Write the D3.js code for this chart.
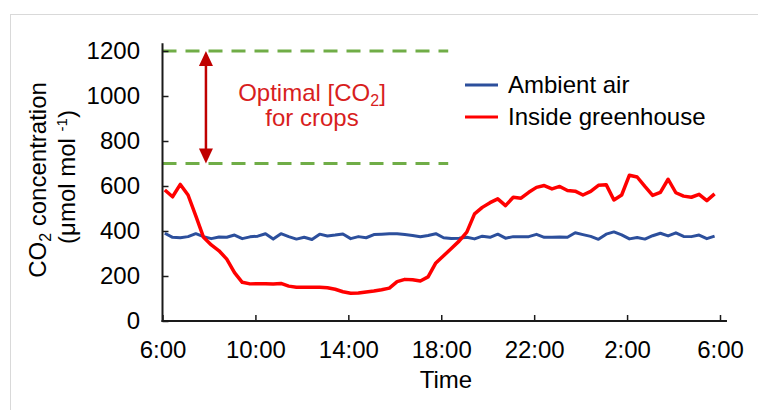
<!DOCTYPE html>
<html><head><meta charset="utf-8">
<script src="https://cdn.jsdelivr.net/npm/d3@7"></script>
<style>
body{margin:0;background:#fff}
svg{display:block}
text{font-family:"Liberation Sans",Arial,Helvetica,sans-serif}
</style>
</head><body>
<svg id="chart" width="758" height="410"></svg>
<script>
// ---- data ----
const tickHours = [0, 4, 8, 12, 16, 20, 24];
const tickLabels = ["6:00", "10:00", "14:00", "18:00", "22:00", "2:00", "6:00"];
const yTicks = [0, 200, 400, 600, 800, 1000, 1200];
const optimalRange = [700, 1200];
const seriesNames = ["Ambient air", "Inside greenhouse"];
const sampleStart = 0.1;      // hours after 6:00 of first reading
const sampleStep = 1 / 3;     // readings every 20 minutes
const ambient = [390,372,370,375,388,375,366,373,372,382,366,374,377,388,364,388,375,364,
  372,362,386,378,382,387,366,375,370,384,386,388,388,384,380,374,380,388,
  370,367,368,372,365,377,372,386,368,375,375,375,385,372,372,373,372,392,
  384,376,363,386,396,383,365,371,364,379,390,378,392,376,375,382,366,377];
const greenhouse = [582,552,607,560,467,372,338,312,275,215,172,165,166,166,164,167,155,150,
  150,150,150,148,141,130,123,124,129,133,139,146,175,185,183,178,196,258,
  290,322,355,395,476,505,526,543,513,550,546,572,594,602,587,598,580,577,
  560,576,603,606,538,560,648,640,598,558,572,630,570,555,550,563,535,565];
const arrowHour = 1.87;
const dashedEndHour = 12.3;

// ---- drawing ----
const svg = d3.select("#chart");
const FONT = 24;
const x = d3.scaleLinear().domain([0, 24]).range([162.5, 720]);
const y = d3.scaleLinear().domain([0, 1200]).range([321, 51]);
const xAt = i => x(sampleStart + i * sampleStep);

// frame
svg.append("rect").attr("x", 10.5).attr("y", 14.5).attr("width", 800).attr("height", 500)
  .attr("fill", "none").attr("stroke", "#d9d9d9").attr("stroke-width", 1);

// optimal range dashed lines
svg.selectAll("line.opt").data(optimalRange).join("line").attr("class", "opt")
  .attr("x1", x(0)).attr("x2", x(dashedEndHour))
  .attr("y1", d => y(d)).attr("y2", d => y(d))
  .attr("stroke", "#70ad47").attr("stroke-width", 3).attr("stroke-dasharray", "14,9");

// axes
const xAxis = d3.axisBottom(x).tickValues(tickHours).tickFormat((d, i) => tickLabels[i])
  .tickSizeInner(-6).tickSizeOuter(0).tickPadding(20);
const gx = svg.append("g").attr("transform", `translate(0,${y(0)})`).call(xAxis);
gx.select(".domain").remove();
gx.append("line").attr("x1", x(0) - 1).attr("x2", x(24.3)).attr("y1", 0).attr("y2", 0)
  .attr("stroke", "#1a1a1a").attr("stroke-width", 2);
gx.selectAll(".tick line").attr("stroke", "#1a1a1a").attr("stroke-width", 1.5);
gx.selectAll(".tick text").attr("font-size", FONT).attr("fill", "#000")
  .attr("font-family", '"Liberation Sans",Arial,sans-serif');

const yAxis = d3.axisLeft(y).tickValues(yTicks).tickFormat(d3.format("d"))
  .tickSizeInner(-6).tickSizeOuter(0).tickPadding(22.5);
const gy = svg.append("g").attr("transform", `translate(${x(0)},0)`).call(yAxis);
gy.select(".domain").remove();
gy.append("line").attr("x1", 0).attr("x2", 0).attr("y1", y(0) + 1).attr("y2", y(1235))
  .attr("stroke", "#1a1a1a").attr("stroke-width", 2);
gy.selectAll(".tick line").attr("stroke", "#1a1a1a").attr("stroke-width", 1.5);
gy.selectAll(".tick text").attr("font-size", FONT).attr("fill", "#000")
  .attr("font-family", '"Liberation Sans",Arial,sans-serif');

// series
const line = d3.line().x((d, i) => xAt(i)).y(d => y(d));
svg.append("path").datum(ambient).attr("d", line).attr("fill", "none")
  .attr("stroke", "#2c4f9c").attr("stroke-width", 3).attr("stroke-linejoin", "round");
svg.append("path").datum(greenhouse).attr("d", line).attr("fill", "none")
  .attr("stroke", "#ff0000").attr("stroke-width", 3.5).attr("stroke-linejoin", "round");

// double arrow
const ax = x(arrowHour), aTop = y(optimalRange[1]), aBot = y(optimalRange[0]);
const AR = "#c00000";
svg.append("line").attr("x1", ax).attr("x2", ax).attr("y1", aTop + 10).attr("y2", aBot - 10)
  .attr("stroke", AR).attr("stroke-width", 2.5);
svg.append("path").attr("d", `M${ax},${aTop} L${ax - 7},${aTop + 15} L${ax + 7},${aTop + 15} Z`).attr("fill", AR);
svg.append("path").attr("d", `M${ax},${aBot} L${ax - 7},${aBot - 15} L${ax + 7},${aBot - 15} Z`).attr("fill", AR);

// annotation text
const ann = svg.append("text").attr("x", 312).attr("y", 101).attr("text-anchor", "middle")
  .attr("font-size", FONT).attr("fill", "#d81e1e");
ann.append("tspan").text("Optimal [CO");
ann.append("tspan").attr("dy", 5).attr("font-size", 16).text("2");
ann.append("tspan").attr("dy", -5).text("]");
svg.append("text").attr("x", 312).attr("y", 126).attr("text-anchor", "middle")
  .attr("font-size", FONT).attr("fill", "#d81e1e").text("for crops");

// legend
const legColors = ["#2c4f9c", "#ff0000"];
const legY = [85, 117];
const lg = svg.append("g");
seriesNames.forEach((name, i) => {
  lg.append("line").attr("x1", 465).attr("x2", 498).attr("y1", legY[i]).attr("y2", legY[i])
    .attr("stroke", legColors[i]).attr("stroke-width", 3);
  lg.append("text").attr("x", 508).attr("y", legY[i] + 8).attr("font-size", FONT)
    .attr("fill", "#000").text(name);
});

// y axis title
const t1 = svg.append("text").attr("transform", "translate(46,180) rotate(-90)")
  .attr("text-anchor", "middle").attr("font-size", FONT).attr("fill", "#000");
t1.append("tspan").text("CO");
t1.append("tspan").attr("dy", 5).attr("font-size", 16).text("2");
t1.append("tspan").attr("dy", -5).text(" concentration");
const t2 = svg.append("text").attr("transform", "translate(75,177) rotate(-90)")
  .attr("text-anchor", "middle").attr("font-size", FONT).attr("fill", "#000");
t2.append("tspan").text("(μmol mol ");
t2.append("tspan").attr("dy", -8).attr("font-size", 15).text("-1");
t2.append("tspan").attr("dy", 8).text(")");

// x axis title
svg.append("text").attr("x", 446).attr("y", 388).attr("text-anchor", "middle")
  .attr("font-size", FONT).attr("fill", "#000").text("Time");
</script>
</body></html>
